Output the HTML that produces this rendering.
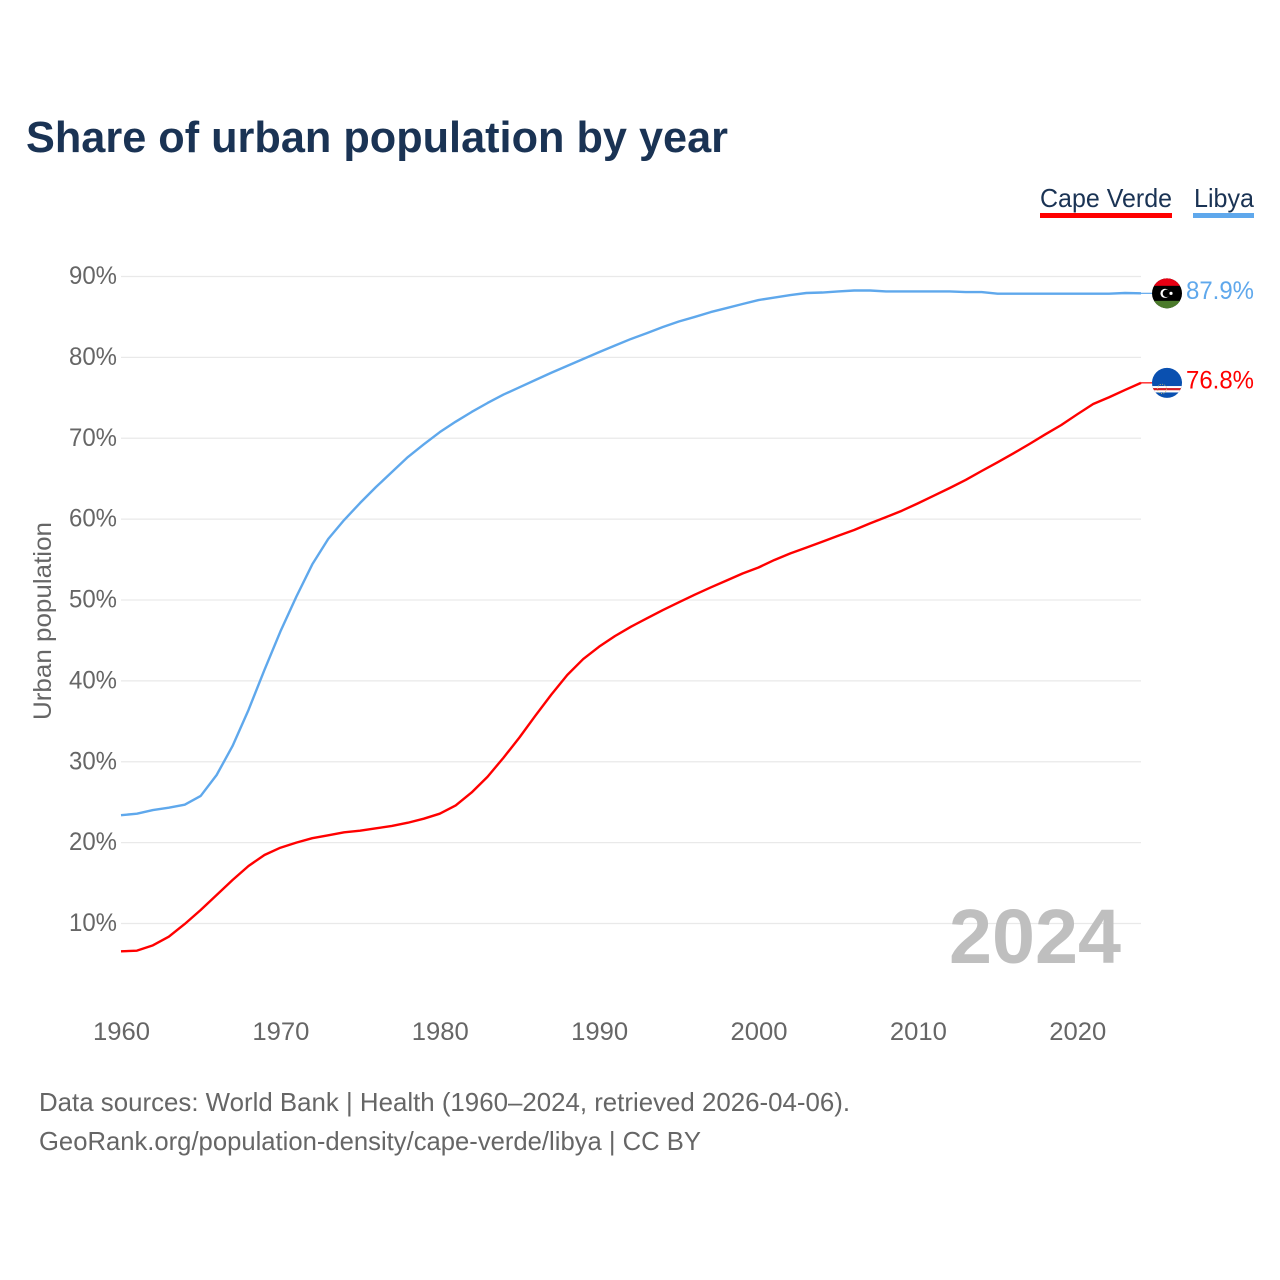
<!DOCTYPE html>
<html lang="en">
<head>
<meta charset="utf-8">
<title>Share of urban population by year</title>
<style>
  html, body { margin: 0; padding: 0; background: #fff; }
  svg { display: block; font-family: "Liberation Sans", sans-serif; }
</style>
</head>
<body>
<svg id="chart" xmlns="http://www.w3.org/2000/svg" width="1280" height="1280" viewBox="0 0 1280 1280">
  <rect x="0" y="0" width="1280" height="1280" fill="#ffffff"/>
  <text x="26" y="152" font-size="44" font-weight="700" fill="#1a3354" textLength="702" lengthAdjust="spacingAndGlyphs">Share of urban population by year</text>

  <g>
    <g>
      <text x="1040" y="207" font-size="26" fill="#1a3354" textLength="132" lengthAdjust="spacingAndGlyphs">Cape Verde</text>
      <rect x="1040" y="213" width="132" height="5" fill="#ff0000"/>
    </g>
    <g>
      <text x="1194" y="207" font-size="26" fill="#1a3354" textLength="60" lengthAdjust="spacingAndGlyphs">Libya</text>
      <rect x="1193" y="213" width="61" height="5" fill="#5fa8ec"/>
    </g>
  </g>

  <g id="grid"></g>
  <g id="yticks"></g>
  <g id="xticks"></g>

  <text transform="translate(51 621) rotate(-90)" text-anchor="middle" font-size="25" fill="#666666" textLength="198" lengthAdjust="spacingAndGlyphs">Urban population</text>

  <text x="949" y="963" font-size="77" font-weight="700" fill="#bfbfbf" textLength="172" lengthAdjust="spacingAndGlyphs">2024</text>

  <g id="series"></g>

  <defs>
    <clipPath id="flag-clip"><circle cx="0" cy="0" r="15"/></clipPath>
  </defs>

  <g id="flag-libya" clip-path="none">
    <g clip-path="url(#flag-clip)">
      <rect x="-16" y="-16" width="32" height="32" fill="#000000"/>
      <rect x="-16" y="-16" width="32" height="8.5" fill="#e70013"/>
      <rect x="-16" y="7.5" width="32" height="8.5" fill="#4b7a2b"/>
      <circle cx="-2" cy="0" r="4.6" fill="#ffffff"/>
      <circle cx="-0.6" cy="0" r="3.7" fill="#000000"/>
      <circle cx="4" cy="0" r="1.6" fill="#ffffff"/>
    </g>
  </g>
  <g id="flag-cape-verde">
    <g clip-path="url(#flag-clip)">
      <rect x="-16" y="-16" width="32" height="32" fill="#0a50b0"/>
      <rect x="-16" y="3.2" width="32" height="6.4" fill="#ffffff"/>
      <rect x="-16" y="5.2" width="32" height="2.2" fill="#cf2027"/>
      <circle cx="-5" cy="6" r="4.6" fill="none" stroke="#d9c36a" stroke-width="0.8" stroke-dasharray="1 1.4"/>
    </g>
  </g>

  <g id="end-labels"></g>

  <g>
    <text x="39" y="1111" font-size="26" fill="#666666" textLength="811" lengthAdjust="spacingAndGlyphs">Data sources: World Bank | Health (1960–2024, retrieved 2026-04-06).</text>
    <text x="39" y="1150" font-size="26" fill="#666666" textLength="662" lengthAdjust="spacingAndGlyphs">GeoRank.org/population-density/cape-verde/libya | CC BY</text>
  </g>
</svg>

<script>
const startYear = 1960;
const yTickValues = [10, 20, 30, 40, 50, 60, 70, 80, 90];
const yTickLabels = ["10%", "20%", "30%", "40%", "50%", "60%", "70%", "80%", "90%"];
const xTickYears = [1960, 1970, 1980, 1990, 2000, 2010, 2020];
const xTickLabels = ["1960", "1970", "1980", "1990", "2000", "2010", "2020"];

const libyaValues = [
  23.39, 23.58, 24.03, 24.32, 24.69, 25.77, 28.36, 31.95, 36.4, 41.35,
  46.1, 50.4, 54.4, 57.54, 59.89, 61.99, 63.97, 65.83, 67.68, 69.25,
  70.75, 72.05, 73.25, 74.36, 75.4, 76.3, 77.2, 78.1, 78.95, 79.8,
  80.65, 81.47, 82.28, 83.0, 83.75, 84.44, 85.0, 85.6, 86.1, 86.6,
  87.09, 87.4, 87.71, 87.96, 88.02, 88.15, 88.27, 88.27, 88.15, 88.15,
  88.15, 88.15, 88.15, 88.08, 88.08, 87.87, 87.87, 87.87, 87.87, 87.87,
  87.87, 87.87, 87.87, 87.96, 87.92
];
const capeVerdeValues = [
  6.56, 6.64, 7.3, 8.37, 9.94, 11.67, 13.52, 15.38, 17.11, 18.47,
  19.37, 20.0, 20.55, 20.9, 21.27, 21.47, 21.77, 22.06, 22.46, 22.96,
  23.58, 24.6, 26.2, 28.15, 30.5, 33.0, 35.7, 38.3, 40.73, 42.7,
  44.23, 45.55, 46.7, 47.74, 48.76, 49.71, 50.66, 51.55, 52.41, 53.28,
  54.02, 54.95, 55.77, 56.47, 57.2, 57.95, 58.66, 59.48, 60.25, 61.04,
  61.95, 62.9, 63.85, 64.84, 65.95, 67.03, 68.14, 69.29, 70.49, 71.64,
  72.96, 74.23, 75.07, 75.97, 76.85
];
const libyaLabel = "87.9%";
const capeVerdeLabel = "76.8%";

const SVG_NS = "http://www.w3.org/2000/svg";
function xScale(year) { return 121 + (year - 1960) * (1141 - 121) / 64; }
function yScale(value) { return 923.5 - (value - 10) * 8.0875; }
function make(tag, attrs, parent, text) {
  const el = document.createElementNS(SVG_NS, tag);
  for (const k in attrs) el.setAttribute(k, attrs[k]);
  if (text !== undefined) el.textContent = text;
  parent.appendChild(el);
  return el;
}

const grid = document.getElementById("grid");
const yticks = document.getElementById("yticks");
yTickValues.forEach(function (v, i) {
  const line = make("line", { x1: 121, x2: 1141, y1: yScale(v), y2: yScale(v), stroke: "#e9e9e9", "stroke-width": 1.3 }, grid);
  
  
  const label = make("text", { x: 69, y: yScale(v) + 7.5, "font-size": 25, fill: "#666666", textLength: 48, lengthAdjust: "spacingAndGlyphs" }, yticks, yTickLabels[i]);
  
  
});

const xticks = document.getElementById("xticks");
xTickYears.forEach(function (yr, i) {
  const label = make("text", { x: xScale(yr) - 28, y: 1040, "font-size": 25, fill: "#666666", textLength: 57, lengthAdjust: "spacingAndGlyphs" }, xticks, xTickLabels[i]);
  
  
});

function pathFor(values) {
  return values.map(function (v, i) {
    return (i ? "L" : "M") + xScale(startYear + i).toFixed(2) + " " + yScale(v).toFixed(2);
  }).join(" ");
}

const seriesGroup = document.getElementById("series");
const endLabels = document.getElementById("end-labels");

const libyaLine = make("path", { d: pathFor(libyaValues), fill: "none", stroke: "#5fa8ec", "stroke-width": 2.4, "stroke-linejoin": "round" }, seriesGroup);



const capeVerdeLine = make("path", { d: pathFor(capeVerdeValues), fill: "none", stroke: "#ff0000", "stroke-width": 2.4, "stroke-linejoin": "round" }, seriesGroup);



const libyaEndY = yScale(libyaValues[libyaValues.length - 1]);
const capeVerdeEndY = yScale(capeVerdeValues[capeVerdeValues.length - 1]);

const libyaConnector = make("line", { x1: 1141, x2: 1152, y1: libyaEndY, y2: libyaEndY, stroke: "#5fa8ec", "stroke-width": 1.2 }, seriesGroup);



const capeVerdeConnector = make("line", { x1: 1141, x2: 1152, y1: capeVerdeEndY, y2: capeVerdeEndY, stroke: "#ff0000", "stroke-width": 1.2 }, seriesGroup);



document.getElementById("flag-libya").setAttribute("transform", "translate(1167 " + libyaEndY + ")");
document.getElementById("flag-cape-verde").setAttribute("transform", "translate(1167 " + capeVerdeEndY + ")");

const libyaValueLabel = make("text", { x: 1186, y: libyaEndY + 5.5, "font-size": 25, fill: "#5fa8ec", textLength: 68, lengthAdjust: "spacingAndGlyphs" }, endLabels, libyaLabel);



const capeVerdeValueLabel = make("text", { x: 1186, y: capeVerdeEndY + 5.5, "font-size": 25, fill: "#ff0000", textLength: 68, lengthAdjust: "spacingAndGlyphs" }, endLabels, capeVerdeLabel);


</script>
</body>
</html>
